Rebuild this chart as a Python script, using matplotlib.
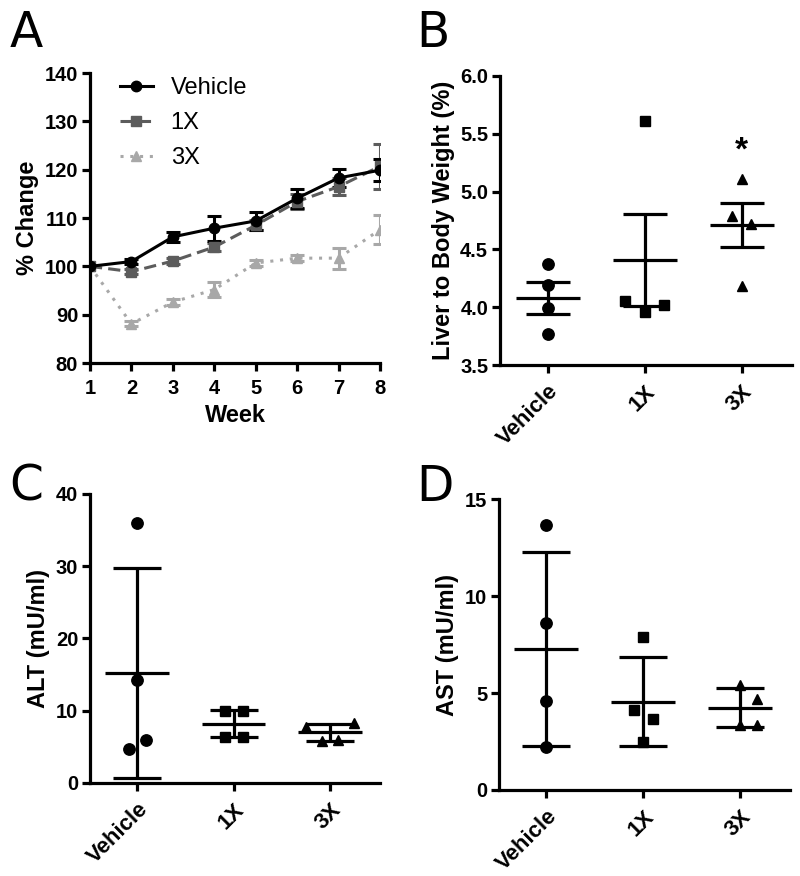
import matplotlib

matplotlib.use("Agg")
import matplotlib.pyplot as plt
from matplotlib.lines import Line2D
import numpy as np

plt.rcParams.update({
    "font.family": ["Liberation Sans", "DejaVu Sans"],
    "font.weight": "bold",
    "font.size": 14,
    "axes.labelsize": 17,
    "axes.linewidth": 2.3,
    "xtick.major.width": 2.3,
    "ytick.major.width": 2.3,
    "xtick.major.size": 6,
    "ytick.major.size": 6,
    "xtick.labelsize": 14.5,
    "ytick.labelsize": 14.5,
    "ytick.major.pad": 2.5,
    "xtick.major.pad": 5.5,
})

# --- panel A: body weight % change ---
weeks = [1, 2, 3, 4, 5, 6, 7, 8]
veh_pct = [100, 101.0, 106.1, 107.9, 109.4, 114.1, 118.3, 119.9]
veh_err = [0, 0.5, 1.1, 2.6, 1.8, 2.0, 1.8, 2.3]
x1_pct = [100, 98.9, 101.1, 104.0, 108.5, 113.4, 116.5, 120.7]
x1_err = [0, 0.5, 0.6, 0.8, 1.0, 1.5, 1.8, 4.7]
x3_pct = [100, 88.1, 92.6, 95.2, 100.7, 101.7, 101.7, 107.6]
x3_err = [0, 0.5, 0.6, 1.5, 0.6, 0.6, 2.2, 3.0]

groups = ["Vehicle", "1X", "3X"]
group_markers = ["o", "s", "^"]

# --- panel B: liver to body weight (mean +/- SEM) ---
liver_pts = [[4.37, 4.19, 3.99, 3.77],
             [5.61, 4.05, 3.96, 4.02],
             [5.11, 4.79, 4.72, 4.18]]
liver_jit = [[0, 0, 0, 0], [0, -0.2, 0, 0.2], [0, -0.1, 0.1, 0]]
liver_mean = [4.08, 4.41, 4.71]
liver_err = [0.135, 0.40, 0.19]

# --- panel C: ALT (mean +/- SD) ---
alt_pts = [[36.0, 14.3, 4.7, 5.9],
           [10.0, 10.0, 6.3, 6.3],
           [7.7, 8.3, 5.8, 6.0]]
alt_jit = [[0, 0, -0.09, 0.09], [-0.09, 0.1, -0.09, 0.1],
           [-0.25, 0.25, -0.08, 0.08]]
alt_mean = [15.2, 8.2, 7.0]
alt_err = [14.5, 1.9, 1.2]

# --- panel D: AST (mean +/- SD) ---
ast_pts = [[13.68, 8.6, 4.6, 2.24],
           [7.88, 4.13, 3.68, 2.46],
           [5.42, 4.70, 3.36, 3.36]]
ast_jit = [[0, 0, 0, 0], [0, -0.09, 0.1, 0],
           [0, 0.18, 0, 0.18]]
ast_mean = [7.28, 4.56, 4.25]
ast_err = [5.0, 2.3, 1.0]

fig = plt.figure(figsize=(8.0, 8.76), dpi=100)

axA = fig.add_axes([0.1125, 0.5856, 0.3625, 0.331])
axB = fig.add_axes([0.625, 0.5833, 0.365, 0.330])
axC = fig.add_axes([0.1125, 0.1062, 0.3625, 0.330])
axD = fig.add_axes([0.62375, 0.0982, 0.364, 0.332])

for ax in (axA, axB, axC, axD):
    ax.spines["top"].set_visible(False)
    ax.spines["right"].set_visible(False)

# panel A
series = [
    (veh_pct, veh_err, "black", "-", "o", "Vehicle", 7.5),
    (x1_pct, x1_err, "#5c5c5c", (0, (4, 2)), "s", "1X", 7),
    (x3_pct, x3_err, "#a8a8a8", (0, (1, 2.2)), "^", "3X", 7),
]
handles = []
for vals, errs, col, ls, mk, lab, ms in series[::-1]:
    axA.errorbar(weeks, vals, yerr=errs, color=col, ls=ls, lw=2.2,
                 marker=mk, ms=ms, capsize=5, capthick=2.2, elinewidth=2.2)
for vals, errs, col, ls, mk, lab, ms in series:
    handles.append(Line2D([], [], color=col, ls=ls, lw=2.2, marker=mk,
                          ms=ms, label=lab))
axA.set_xlim(1, 8)
axA.set_ylim(80, 140)
axA.set_xticks(weeks)
axA.set_yticks(range(80, 141, 10))
axA.set_xlabel("Week", fontweight="bold", labelpad=4)
axA.set_ylabel("% Change", fontweight="bold", labelpad=4)
axA.legend(handles=handles, loc="upper left",
           bbox_to_anchor=(0.03, 1.06), frameon=False,
           prop={"weight": "normal", "size": 17},
           handlelength=1.4, labelspacing=0.55, handletextpad=0.75)


def dot_panel(ax, pts, jit, means, errs, cap_w):
    for i, (p, j, mk) in enumerate(zip(pts, jit, group_markers)):
        xs = [i + d for d in j]
        ms = 8.2 if mk == "o" else 7.8
        ax.plot(xs, p, ls="none", marker=mk, ms=ms, color="black",
                clip_on=False, zorder=3)
        ax.plot([i - 0.33, i + 0.33], [means[i], means[i]], color="black",
                lw=2.3, solid_capstyle="butt", zorder=4)
        ax.errorbar([i], [means[i]], yerr=[errs[i]], fmt="none",
                    ecolor="black", elinewidth=2.3, capsize=cap_w,
                    capthick=2.3, zorder=4)
    ax.set_xlim(-0.49, 2.52)
    ax.set_xticks(range(len(groups)))
    ax.set_xticklabels(groups, rotation=45, ha="right",
                       rotation_mode="anchor", fontweight="bold",
                       fontsize=16)


dot_panel(axB, liver_pts, liver_jit, liver_mean, liver_err, 16)
axB.set_ylim(3.5, 6.0)
axB.set_yticks([3.5, 4.0, 4.5, 5.0, 5.5, 6.0])
axB.set_yticklabels(["3.5", "4.0", "4.5", "5.0", "5.5", "6.0"])
axB.set_ylabel("Liver to Body Weight (%)", fontweight="bold")
axB.text(2, 5.35, "*", ha="center", va="center", fontsize=24,
         fontweight="bold")

dot_panel(axC, alt_pts, alt_jit, alt_mean, alt_err, 17)
axC.set_ylim(0, 40)
axC.set_yticks([0, 10, 20, 30, 40])
axC.set_ylabel("ALT (mU/ml)", fontweight="bold")

dot_panel(axD, ast_pts, ast_jit, ast_mean, ast_err, 17)
axD.set_ylim(0, 15)
axD.set_yticks([0, 5, 10, 15])
axD.set_ylabel("AST (mU/ml)", fontweight="bold")

for ax in (axA, axB, axC, axD):
    for lab in ax.get_xticklabels() + ax.get_yticklabels():
        lab.set_fontweight("bold")

for txt, x, y in (("A", 0.012, 0.99), ("B", 0.52, 0.99),
                  ("C", 0.012, 0.472), ("D", 0.52, 0.472)):
    fig.text(x, y, txt, fontsize=35, family="DejaVu Sans",
             fontweight="normal", ha="left", va="top")

fig.savefig("out.png", dpi=100)
